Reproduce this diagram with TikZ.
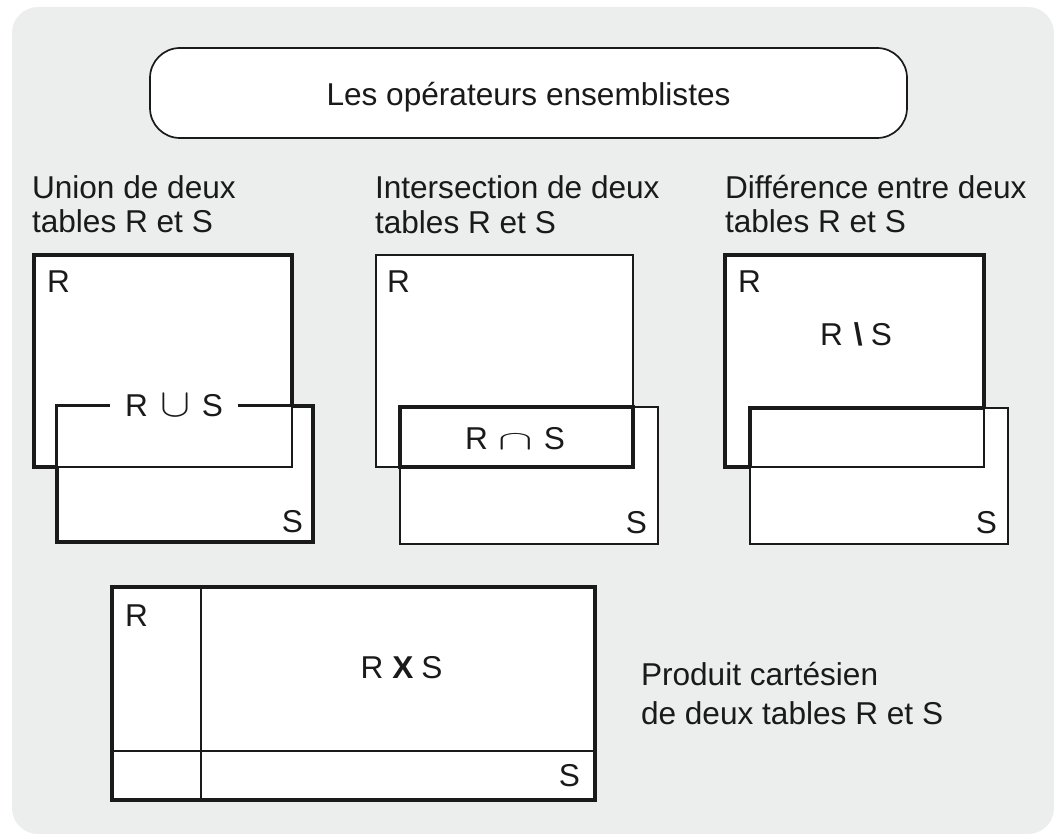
\documentclass[tikz,border=0pt]{standalone}
\usepackage{fontspec}
\setmainfont{Liberation Sans}
\usepackage{graphicx}
\usepackage{tikz}
\usetikzlibrary{calc}
\usepackage{xcolor}
\definecolor{fondgris}{RGB}{236,237,237}
\definecolor{encre}{RGB}{26,26,26}

\begin{document}
\begin{tikzpicture}[x=1pt, y=-1pt]
        % ================= 样式定义 =================
        \tikzset{
            % 灰色圆角背景
            fond/.style={fill=fondgris, draw=none, rounded corners=26pt},
            % 标题框:白底圆角
            titre/.style={draw=encre, line width=1.7pt, fill=white, rounded corners=30pt, minimum width=757pt, minimum height=90pt, inner sep=0pt, outer sep=0pt, font=\fontsize{31.6}{34}\selectfont, text=encre, text height=26pt, text depth=0pt},
            % 粗边表格
            tabgros/.style={draw=encre, line width=4.2pt, fill=white, inner sep=0pt, outer sep=0pt, anchor=north west},
            % 细边表格
            tabfin/.style={draw=encre, line width=1.5pt, fill=white, inner sep=0pt, outer sep=0pt, anchor=north west},
            % 线样式
            traitgros/.style={draw=encre, line width=4.2pt},
            traitfin/.style={draw=encre, line width=1.5pt},
            % 文字
            etiq/.style={font=\fontsize{31.6}{34}\selectfont, text=encre, inner sep=0pt, outer sep=0pt},
            legende/.style={etiq, anchor=base west}
        }

        % 画布大小与参考图一致
        \useasboundingbox (0,0) rectangle (1057,834);

        % ================= 0. 背景与标题 =================
        \path[fond] (12,7) rectangle (1054,834);
        \node[titre] (titre) at (528.5,93) {Les opérateurs ensemblistes};

        % ================= 1. 说明文字 =================
        \node[legende] (capU1) at (32,199) {Union de deux};
        \node[legende] (capU2) at (32,233) {tables R et S};
        \node[legende] (capI1) at (375,199) {Intersection de deux};
        \node[legende] (capI2) at (375,234) {tables R et S};
        \node[legende] (capD1) at (725,199) {Différence entre deux};
        \node[legende] (capD2) at (725,233) {tables R et S};
        \node[legende] (capP1) at (641,685) {Produit cartésien};
        \node[legende] (capP2) at (641,724) {de deux tables R et S};

        % ================= 2. 并集 =================
        \node[tabgros, minimum width=258pt, minimum height=212pt] (uR) at (34,255) {};
        \node[tabgros, minimum width=256pt, minimum height=136pt] (uS) at (57,406) {};
        % 交叠部分:细线白底
        \draw[traitfin, fill=white] (uS.north west) rectangle (uR.south east);
        \node[etiq, fill=white, inner xsep=15pt, inner ysep=3pt] (uLab) at (174,406)
            {R\hspace{13pt}\resizebox{30pt}{22pt}{$\cup$}\hspace{11pt}S};
        \node[etiq, anchor=base west] (uRn) at ($(uR.north west)+(13,37)$) {R};
        \node[etiq, anchor=base east] (uSn) at ($(uS.south east)+(-10,-10)$) {S};

        % ================= 3. 交集 =================
        \node[tabfin, minimum width=257pt, minimum height=212pt] (iR) at (376,255) {};
        \node[tabfin, minimum width=258pt, minimum height=137pt] (iS) at (400,407) {};
        % 交叠部分加粗
        \draw[traitgros] (iS.north west) rectangle (iR.south east);
        \node[etiq, anchor=base] (iLab) at (515,449)
            {R\hspace{10pt}\resizebox{35pt}{15pt}{$\cap$}\hspace{11pt}S};
        \node[etiq, anchor=base west] (iRn) at ($(iR.north west)+(11,37)$) {R};
        \node[etiq, anchor=base east] (iSn) at ($(iS.south east)+(-11,-11)$) {S};

        % ================= 4. 差集 =================
        \node[tabgros, minimum width=259pt, minimum height=212pt] (dR) at (725,255) {};
        \node[tabfin, minimum width=258pt, minimum height=136pt] (dS) at (750,408) {};
        \draw[traitfin] (dS.north west) rectangle (dR.south east);
        % R \ S 的边界加粗
        \draw[traitgros] (dS.north west |- dR.south) -- (dS.north west) -- (dS.north west -| dR.east);
        \node[etiq, anchor=base] (dLab) at (856,345) {R\hspace{11pt}\textbf{\textbackslash}\hspace{8pt}S};
        \node[etiq, anchor=base west] (dRn) at ($(dR.north west)+(13,37)$) {R};
        \node[etiq, anchor=base east] (dSn) at ($(dS.south east)+(-11,-11)$) {S};

        % ================= 5. 笛卡尔积 =================
        \node[tabgros, minimum width=483pt, minimum height=213pt] (pB) at (112,587) {};
        \coordinate (pCol) at (201,587);
        \coordinate (pRow) at (112,751);
        \draw[traitfin] (pCol) -- (pCol |- pB.south);
        \draw[traitfin] (pRow) -- (pRow -| pB.east);
        % 外框再描一次,盖住细线端点
        \draw[traitgros] (pB.north west) rectangle (pB.south east);
        \node[etiq, anchor=base] (pLab) at (401.5,678) {R\hspace{9pt}\textbf{X}\hspace{8pt}S};
        \node[etiq, anchor=base west] (pRn) at ($(pB.north west)+(13,39)$) {R};
        \node[etiq, anchor=base east] (pSn) at ($(pB.south east)+(-15,-14)$) {S};

\end{tikzpicture}
\end{document}
